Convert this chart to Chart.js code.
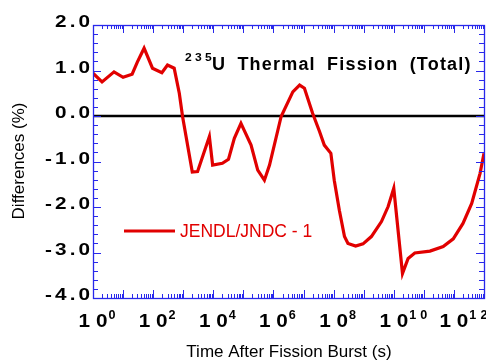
<!DOCTYPE html>
<html>
<head>
<meta charset="utf-8">
<script src="https://cdn.jsdelivr.net/npm/chart.js@4/dist/chart.umd.min.js"></script>
<style>
    body { margin: 0; background: #fff; }
    canvas { display: block; }
</style>
</head>
<body>
<canvas id="diffChart" width="486" height="361"></canvas>
<script>
// time after fission burst (s)
const times = [
    1, 2, 5, 10, 20, 30, 50, 95, 195, 300, 500, 740, 950,
    2000, 3000, 7400, 9500, 2.0e4, 3.2e4, 5.0e4, 8.3e4, 1.8e5, 3.0e5, 5.0e5, 7.4e5,
    1.8e6, 4.4e6, 7.4e6, 1.07e7, 2.0e7, 3.4e7, 4.9e7, 8.1e7, 1.05e8, 1.55e8, 2.3e8,
    3.0e8, 5.4e8, 9.5e8, 1.8e9, 3.9e9, 6.5e9, 1.0e10, 1.95e10, 3.0e10, 5.0e10,
    1.6e11, 4.4e11, 9.5e11, 2.0e12, 3.9e12, 7.4e12, 1.0e13
];
// JENDL/JNDC - 1 differences (%)
const diffs = [
    0.94, 0.75, 0.97, 0.85, 0.92, 1.19, 1.49, 1.05, 0.95, 1.12, 1.05, 0.50, -0.01,
    -1.23, -1.22, -0.45, -1.08, -1.04, -0.95, -0.49, -0.16, -0.64, -1.19, -1.41, -1.08,
    -0.01, 0.53, 0.68, 0.61, 0.06, -0.34, -0.64, -0.82, -1.41, -2.07, -2.65,
    -2.80, -2.86, -2.81, -2.65, -2.32, -1.99, -1.59, -3.46, -3.13, -3.01,
    -2.97, -2.87, -2.70, -2.36, -1.92, -1.26, -0.82
];
const zeroTimes = [1, 1e13];
const zeroValues = [0, 0];

const yTicks = [-4, -3, -2, -1, 0, 1, 2];
const yTickLabels = ['-4.0', '-3.0', '-2.0', '-1.0', '0.0', '1.0', '2.0'];
const xTickExps = [0, 2, 4, 6, 8, 10, 12];

const FONT = '"Liberation Sans", Arial, Helvetica, sans-serif';
const AXIS_BLUE = 'rgb(40,40,235)';
const RED = 'rgb(225,0,0)';

// text with a horizontal stretch and letter spacing; returns drawn width
function stretchedText(ctx, text, x, y, font, align, sx, spacing)
{
    ctx.save();
    ctx.font = font;
    ctx.letterSpacing = spacing + 'px';
    ctx.textAlign = 'left';
    const w = (ctx.measureText(text).width - spacing) * sx;
    let x0 = x;
    if (align === 'right') x0 = x - w;
    else if (align === 'center') x0 = x - w / 2;
    ctx.translate(x0, y);
    ctx.scale(sx, 1);
    ctx.fillText(text, 0, 0);
    ctx.restore();
    return w;
}

// frame, inward ticks, labels and titles
const decorPlugin = {
    id: 'decor',
    afterDraw(chart)
    {
        const ctx = chart.ctx;
        const area = chart.chartArea;
        const xs = chart.scales.x;
        const ys = chart.scales.y;
        ctx.save();

        // ticks
        ctx.strokeStyle = AXIS_BLUE;
        ctx.lineWidth = 1;
        ctx.beginPath();
        for (let d = 0; d <= 12; d++)
        {
            for (let k = 1; k <= 9; k++)
            {
                const v = k * Math.pow(10, d);
                const px = Math.round(xs.getPixelForValue(v)) + 0.5;
                const len = (k === 1) ? 8 : 4;
                ctx.moveTo(px, area.bottom);
                ctx.lineTo(px, area.bottom - len);
                ctx.moveTo(px, area.top);
                ctx.lineTo(px, area.top + len);
            }
        }
        for (let i = 0; i <= 30; i++)
        {
            const v = -4 + i * 0.2;
            const py = Math.round(ys.getPixelForValue(v)) + 0.5;
            const len = (i % 5 === 0) ? 8 : 5;
            ctx.moveTo(area.left, py);
            ctx.lineTo(area.left + len, py);
            ctx.moveTo(area.right, py);
            ctx.lineTo(area.right - len, py);
        }
        ctx.stroke();

        ctx.lineWidth = 1.3;
        ctx.strokeRect(area.left + 0.5, area.top + 0.5, area.right - area.left, area.bottom - area.top);

        ctx.fillStyle = '#000';
        ctx.textBaseline = 'alphabetic';

        // y tick labels
        yTicks.forEach((v, i) =>
        {
            const py = ys.getPixelForValue(v);
            stretchedText(ctx, yTickLabels[i], area.left - 3, py + 2, 'bold 17px ' + FONT, 'right', 1.22, 2.5);
        });

        // x tick labels 1 0^n
        xTickExps.forEach(n =>
        {
            const px = xs.getPixelForValue(Math.pow(10, n));
            const w = stretchedText(ctx, '1 0', px, 327, 'bold 18px ' + FONT, 'center', 1.15, 0);
            stretchedText(ctx, String(n), px + w / 2 + 1, 319, 'bold 12px ' + FONT, 'left', 1.05, 4);
        });

        // title inside the plot
        stretchedText(ctx, '235', 185, 61, 'bold 11px ' + FONT, 'left', 1.1, 3);
        ctx.font = 'bold 18px ' + FONT;
        ctx.textAlign = 'left';
        ctx.letterSpacing = '1.2px';
        ctx.wordSpacing = '5px';
        ctx.fillText('U Thermal Fission (Total)', 212, 70);
        ctx.wordSpacing = '0px';
        ctx.letterSpacing = '0px';

        // legend
        ctx.strokeStyle = RED;
        ctx.lineWidth = 3;
        ctx.beginPath();
        ctx.moveTo(124, 231);
        ctx.lineTo(175, 231);
        ctx.stroke();
        ctx.fillStyle = RED;
        ctx.font = '17.5px ' + FONT;
        ctx.fillText('JENDL/JNDC - 1', 180, 237);

        // axis titles
        ctx.fillStyle = '#000';
        ctx.font = '17px ' + FONT;
        ctx.textAlign = 'center';
        ctx.fillText('Time After Fission Burst (s)', 289, 357);
        ctx.translate(24, 161);
        ctx.rotate(-Math.PI / 2);
        ctx.font = '17px ' + FONT;
        ctx.fillText('Differences (%)', 0, 0);

        ctx.restore();
    }
};

function buildPoints(xv, yv)
{
    return xv.map((t, i) => ({x: t, y: yv[i]}));
}

const ctx = document.getElementById('diffChart').getContext('2d');
new Chart(ctx, {
    type: 'line',
    data: {
        datasets: [
            {
                label: 'JENDL/JNDC - 1',
                data: buildPoints(times, diffs),
                borderColor: RED,
                borderWidth: 3.2,
                pointRadius: 0,
                tension: 0,
                fill: false
            },
            {
                label: 'zero',
                data: buildPoints(zeroTimes, zeroValues),
                borderColor: '#000',
                borderWidth: 2.5,
                pointRadius: 0,
                fill: false
            }
        ]
    },
    options: {
        responsive: false,
        animation: false,
        layout: {padding: {left: 93, top: 25, right: 2, bottom: 63}},
        plugins: {
            legend: {display: false},
            tooltip: {enabled: false}
        },
        scales: {
            x: {type: 'logarithmic', min: 1, max: 1e13, display: false},
            y: {type: 'linear', min: -4, max: 2, display: false}
        }
    },
    plugins: [decorPlugin]
});
</script>
</body>
</html>
